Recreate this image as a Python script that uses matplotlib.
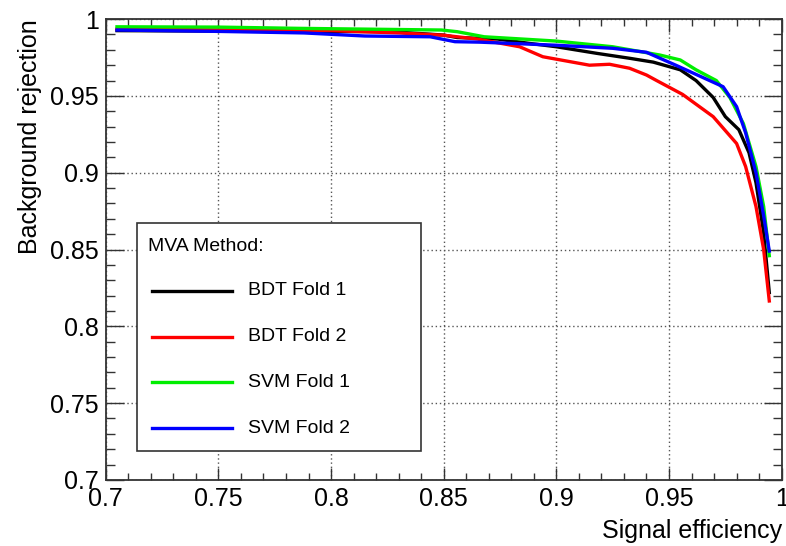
import numpy as np
import matplotlib
matplotlib.use("Agg")
import matplotlib.pyplot as plt
from matplotlib.patches import Rectangle
from matplotlib.ticker import MultipleLocator

plt.rcParams["font.family"] = ["Liberation Sans", "DejaVu Sans"]

# ROC curves (signal efficiency, background rejection)
bdt1_x = [0.705, 0.75, 0.80, 0.827, 0.85, 0.856, 0.874, 0.888, 0.900, 0.918, 0.9325, 0.943,
          0.955, 0.962, 0.9696, 0.975, 0.981, 0.9855, 0.9886, 0.992, 0.9945]
bdt1_y = [0.9925, 0.9922, 0.992, 0.9918, 0.9896, 0.988, 0.987, 0.9842, 0.982, 0.9777, 0.9745, 0.972,
          0.967, 0.960, 0.949, 0.9365, 0.928, 0.913, 0.8935, 0.861, 0.822]

bdt2_x = [0.705, 0.75, 0.80, 0.83, 0.85, 0.865, 0.8837, 0.894, 0.9147, 0.9236, 0.9325, 0.940,
          0.9445, 0.956, 0.9696, 0.980, 0.984, 0.9886, 0.992, 0.9945]
bdt2_y = [0.9935, 0.993, 0.9925, 0.991, 0.9895, 0.987, 0.982, 0.9755, 0.970, 0.9706, 0.968, 0.9636,
          0.960, 0.951, 0.9365, 0.919, 0.904, 0.878, 0.850, 0.8165]

svm1_x = [0.705, 0.75, 0.785, 0.849, 0.856, 0.868, 0.900, 0.925, 0.946, 0.955, 0.962, 0.971,
          0.977, 0.983, 0.9886, 0.992, 0.9945]
svm1_y = [0.995, 0.9948, 0.994, 0.9929, 0.9918, 0.9885, 0.9857, 0.982, 0.9766, 0.9734, 0.967, 0.960,
          0.949, 0.932, 0.904, 0.878, 0.846]

svm2_x = [0.705, 0.75, 0.788, 0.815, 0.844, 0.855, 0.866, 0.900, 0.925, 0.940, 0.953, 0.968,
          0.974, 0.980, 0.984, 0.9886, 0.992, 0.9945]
svm2_y = [0.9929, 0.992, 0.991, 0.989, 0.9885, 0.9853, 0.985, 0.983, 0.981, 0.9784, 0.970, 0.960,
          0.956, 0.943, 0.926, 0.900, 0.872, 0.849]

labels = ["BDT Fold 1", "BDT Fold 2", "SVM Fold 1", "SVM Fold 2"]
colors = ["#000000", "#ff0000", "#00ee00", "#0000ff"]
curves = [(bdt1_x, bdt1_y), (bdt2_x, bdt2_y), (svm1_x, svm1_y), (svm2_x, svm2_y)]
tick_vals = [0.7, 0.75, 0.8, 0.85, 0.9, 0.95, 1.0]
tick_text = ["0.7", "0.75", "0.8", "0.85", "0.9", "0.95", "1"]

fig = plt.figure(figsize=(7.86, 5.46), dpi=100)
ax = fig.add_axes([0.1345, 0.121, 0.860, 0.844])

for (xs, ys), c in zip(curves, colors):
    ax.plot(xs, ys, color=c, lw=2.4, solid_joinstyle="round", zorder=3)

ax.set_xlim(0.7, 1.0)
ax.set_ylim(0.7, 1.0)
ax.set_xticks(tick_vals)
ax.set_xticklabels(tick_text)
ax.set_yticks(tick_vals)
ax.set_yticklabels(tick_text)
ax.xaxis.set_minor_locator(MultipleLocator(0.01))
ax.yaxis.set_minor_locator(MultipleLocator(0.01))

ax.tick_params(axis="both", which="both", direction="in", top=True, right=True,
               labelsize=18, width=1, color="#333333")
ax.tick_params(axis="x", which="major", length=9, pad=5)
ax.tick_params(axis="x", which="minor", length=5)
ax.tick_params(axis="y", which="major", length=13, pad=5)
ax.tick_params(axis="y", which="minor", length=6.5)
for s in ax.spines.values():
    s.set_linewidth(1.3)
    s.set_color("#333333")

ax.grid(True, which="major", ls=(0, (1, 2)), lw=1, color="#555555", zorder=1)

ax.set_xlabel("Signal efficiency", fontsize=18, loc="right", labelpad=6)
ax.set_ylabel("Background rejection", fontsize=18, loc="top", labelpad=6)

# legend box in the ROOT style
lx0, lx1, ly0, ly1 = 0.0458, 0.467, 0.063, 0.557
ax.add_patch(Rectangle((lx0, ly0), lx1 - lx0, ly1 - ly0, transform=ax.transAxes,
                       facecolor="white", edgecolor="#333333", lw=1.2, zorder=5))
ax.text(0.063, 0.507, "MVA Method:", transform=ax.transAxes, fontsize=14,
        va="center", ha="left", zorder=6)
entry_y = [0.411, 0.311, 0.212, 0.112]
for lab, c, yy in zip(labels, colors, entry_y):
    ax.plot([0.069, 0.187], [yy, yy], transform=ax.transAxes, color=c, lw=2.4, zorder=6)
    ax.text(0.211, yy, lab, transform=ax.transAxes, fontsize=14, va="center", ha="left", zorder=6)

fig.savefig("out.png", dpi=100)
